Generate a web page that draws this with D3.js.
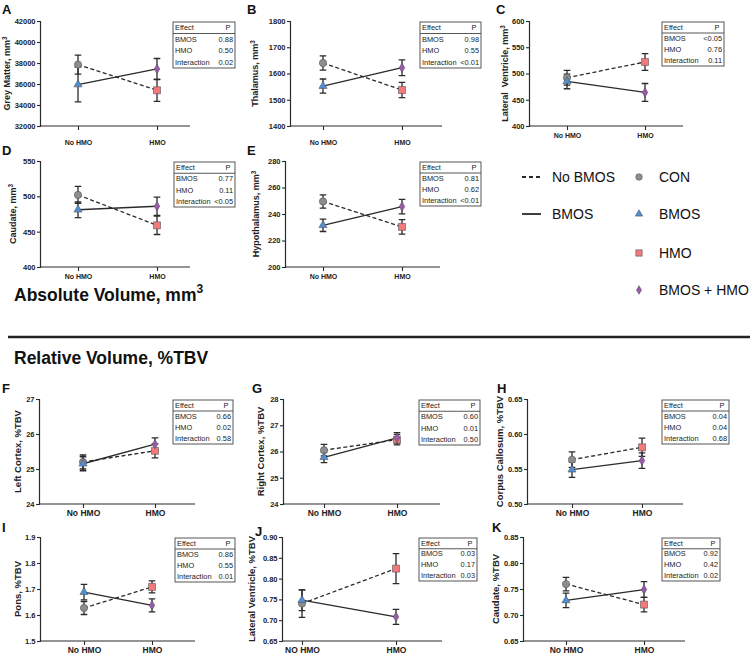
<!DOCTYPE html>
<html><head><meta charset="utf-8">
<script src="https://cdn.jsdelivr.net/npm/d3@7"></script>
<style>body{margin:0;background:#fff} svg{font-family:Arial,"Liberation Sans",sans-serif}</style>
</head><body><svg id="c" width="750" height="656"></svg>
<script>
// ---------- DATA ----------
const panelIds = ["A","B","C","D","E","F","G","H","I","J","K"];
const yLabels = ["Grey Matter, mm","Thalamus, mm","Lateral  Ventricle, mm","Caudate, mm","Hypothalamus, mm",
  "Left Cortex, %TBV","Right Cortex, %TBV","Corpus Callosum, %TBV","Pons, %TBV","Lateral Ventricle, %TBV","Caudate, %TBV"];
const ySup = ["3","3","3","3","3","","","","","",""];
const categories = ["No HMO","HMO"];
const categoriesJ = ["NO HMO","HMO"];
const groups = ["CON","BMOS","HMO","BMOS + HMO"];
const lineGroups = ["No BMOS","BMOS"];
const yTicks = [
  [32000,34000,36000,38000,40000,42000],
  [1400,1500,1600,1700,1800],
  [400,450,500,550,600],
  [400,450,500,550],
  [200,220,240,260,280],
  [24,25,26,27],
  [24,25,26,27,28],
  [0.50,0.55,0.60,0.65],
  [1.5,1.6,1.7,1.8,1.9],
  [0.65,0.70,0.75,0.80,0.85,0.90],
  [0.65,0.70,0.75,0.80,0.85]];
const tickFormats = ["d","d","d","d","d","d","d",".2f",".1f",".2f",".2f"];
const conMean  = [37850,1640,492,502,249.5,25.20,26.05,0.5634,1.627,0.740,0.7595];
const conSem   = [900,  27,  14, 12, 5.0,  0.20, 0.22, 0.011, 0.025,0.033,0.013];
const bmosMean = [35950,1552,485,481,231.5,25.15,25.78,0.549, 1.688,0.748,0.728];
const bmosSem  = [1650, 27,  14, 11, 4.7,  0.20, 0.20, 0.011, 0.030,0.025,0.014];
const hmoMean  = [35400,1537,522,459,230.3,25.52,26.45,0.581, 1.708,0.824,0.720];
const hmoSem   = [1050, 29,  16, 13, 5.5,  0.20, 0.20, 0.013, 0.023,0.036,0.014];
const bmhMean  = [37430,1622,464,486,245.6,25.71,26.52,0.562, 1.637,0.708,0.749];
const bmhSem   = [1000, 30,  17, 13, 5.5,  0.18, 0.20, 0.011, 0.025,0.018,0.015];
const effects = ["BMOS","HMO","Interaction"];
const pBMOS = ["0.88","0.98","<0.05","0.77","0.81","0.66","0.60","0.04","0.86","0.03","0.92"];
const pHMO  = ["0.50","0.55","0.76","0.11","0.62","0.02","0.01","0.04","0.55","0.17","0.42"];
const pInteraction = ["0.02","<0.01","0.11","<0.05","<0.01","0.58","0.50","0.68","0.01","0.03","0.02"];

// ---------- LAYOUT ----------
const L = [
 {x0:40, x1:190,yT:21, yB:126,c0:78, c1:157,tx:173,ty:22, tw:62,th:46,lx:2,  ly:14, yl:7,  cfs:7,  cp:10, lfs:9},
 {x0:290,x1:442,yT:21, yB:126,c0:323,c1:402,tx:420,ty:22, tw:61,th:46,lx:247,ly:14, yl:255,cfs:7,  cp:10, lfs:9},
 {x0:529,x1:683,yT:21, yB:126,c0:567,c1:645,tx:662,ty:22, tw:62,th:44,lx:496,ly:14, yl:505,cfs:7,  cp:3,  lfs:9},
 {x0:40, x1:190,yT:161,yB:267,c0:78, c1:157,tx:174,ty:162,tw:61,th:45,lx:2,  ly:155,yl:13, cfs:7,  cp:3,  lfs:9},
 {x0:285,x1:440,yT:161,yB:267,c0:323,c1:402,tx:420,ty:162,tw:61,th:44,lx:247,ly:155,yl:256,cfs:7,  cp:3,  lfs:9},
 {x0:39, x1:195,yT:399,yB:504,c0:83, c1:155,tx:173,ty:400,tw:60,th:44,lx:2,  ly:393,yl:18, cfs:8.5,cp:2,  lfs:9.5},
 {x0:283,x1:440,yT:399,yB:504,c0:324,c1:397,tx:419,ty:400,tw:61,th:45,lx:252,ly:393,yl:261,cfs:8.5,cp:2,  lfs:9.5},
 {x0:527,x1:683,yT:399,yB:504,c0:572,c1:642,tx:662,ty:400,tw:67,th:44,lx:497,ly:393,yl:500,cfs:8.5,cp:2,  lfs:9.5},
 {x0:40, x1:195,yT:537,yB:641,c0:84, c1:152,tx:175,ty:538,tw:60,th:44,lx:2,  ly:532,yl:18, cfs:8.5,cp:2,  lfs:9.5},
 {x0:282,x1:442,yT:537,yB:641,c0:302,c1:396,tx:419,ty:538,tw:58,th:43,lx:255,ly:536,yl:252,cfs:8.5,cp:2,  lfs:9.5},
 {x0:523,x1:685,yT:537,yB:641,c0:566,c1:644,tx:662,ty:538,tw:58,th:43,lx:492,ly:532,yl:496,cfs:8.5,cp:2,  lfs:9.5}
];
const colors = {CON:"#8e8e8e", BMOS:"#4f8fd6", HMO:"#f27a7c", "BMOS + HMO":"#9c57b0"};
const ink = "#2a2a2a";

const svg = d3.select("#c");

function marker(g, type, x, y, s) {
  const sym = {CON:d3.symbolCircle, BMOS:d3.symbolTriangle, HMO:d3.symbolSquare, "BMOS + HMO":d3.symbolDiamond}[type];
  const size = {CON:s*s*0.8, BMOS:s*s*0.55, HMO:s*s*0.95, "BMOS + HMO":s*s*0.5}[type];
  g.append("path").attr("d", d3.symbol(sym, size)())
   .attr("transform", `translate(${x},${y})`)
   .attr("fill", colors[type]).attr("stroke", "#555").attr("stroke-width", 0.6);
}

panelIds.forEach((id, i) => {
  const l = L[i];
  const g = svg.append("g");
  const ticks = yTicks[i];
  const y = d3.scaleLinear().domain([ticks[0], ticks[ticks.length-1]]).range([l.yB, l.yT]);
  const cats = id === "J" ? categoriesJ : categories;
  const x = d3.scalePoint().domain(cats).range([l.c0, l.c1]);

  // axes
  const ya = d3.axisLeft(y).tickValues(ticks).tickSize(3).tickPadding(1.5).tickFormat(d3.format(tickFormats[i]));
  const yg = g.append("g").attr("transform", `translate(${l.x0},0)`).call(ya);
  const xa = d3.axisBottom(x).tickSize(4).tickPadding(l.cp);
  const xg = g.append("g").attr("transform", `translate(0,${l.yB})`).call(xa);
  xg.select(".domain").attr("d", `M${l.x0},0H${l.x1}`);
  [yg, xg].forEach(a => {
    a.select(".domain").attr("stroke", ink).attr("stroke-width", 1.2);
    a.selectAll(".tick line").attr("stroke", ink).attr("stroke-width", 1.1);
  });
  yg.selectAll(".tick text").attr("font-size", 7.5).attr("font-weight", "bold").attr("fill", "#222");
  xg.selectAll(".tick text").attr("font-size", l.cfs).attr("font-weight", "bold").attr("fill", "#222");

  // y label
  const yt = g.append("text").attr("transform", `translate(${l.yl + l.lfs*0.35},${(l.yT+l.yB)/2}) rotate(-90)`)
    .attr("text-anchor", "middle").attr("font-size", l.lfs).attr("font-weight", "bold").attr("fill", "#222")
    .attr("xml:space", "preserve");
  yt.append("tspan").text(yLabels[i]);
  if (ySup[i]) yt.append("tspan").attr("dy", -l.lfs*0.4).attr("font-size", l.lfs*0.7).text(ySup[i]);

  // panel letter
  g.append("text").attr("x", l.lx).attr("y", l.ly).attr("font-size", 13).attr("font-weight", "bold")
    .attr("fill", "#111").text(id);

  // lines
  const pts = [
    {grp:"CON", c:cats[0], m:conMean[i], e:conSem[i]},
    {grp:"BMOS", c:cats[0], m:bmosMean[i], e:bmosSem[i]},
    {grp:"HMO", c:cats[1], m:hmoMean[i], e:hmoSem[i]},
    {grp:"BMOS + HMO", c:cats[1], m:bmhMean[i], e:bmhSem[i]}
  ];
  const line = d3.line().x(d => x(d.c)).y(d => y(d.m));
  g.append("path").attr("d", line([pts[0], pts[2]])).attr("fill", "none").attr("stroke", ink)
    .attr("stroke-width", 1.3).attr("stroke-dasharray", "4,2.5");
  g.append("path").attr("d", line([pts[1], pts[3]])).attr("fill", "none").attr("stroke", ink)
    .attr("stroke-width", 1.3);
  // error bars
  pts.forEach(d => {
    const cx = x(d.c), cw = 3.3;
    g.append("path").attr("d", `M${cx},${y(d.m-d.e)}V${y(d.m+d.e)}M${cx-cw},${y(d.m-d.e)}H${cx+cw}M${cx-cw},${y(d.m+d.e)}H${cx+cw}`)
      .attr("stroke", ink).attr("stroke-width", 1.3).attr("fill", "none");
  });
  pts.forEach(d => marker(g, d.grp, x(d.c), y(d.m), 7.2));

  // stats table
  const tb = g.append("g").attr("transform", `translate(${l.tx},${l.ty})`);
  const rh = l.th / 4;
  tb.append("rect").attr("width", l.tw).attr("height", l.th).attr("fill", "#fff").attr("stroke", "#444").attr("stroke-width", 0.9);
  tb.append("line").attr("x1", 0).attr("x2", l.tw).attr("y1", rh).attr("y2", rh).attr("stroke", "#444").attr("stroke-width", 0.9);
  const rows = [["Effect","P"], [effects[0], pBMOS[i]], [effects[1], pHMO[i]], [effects[2], pInteraction[i]]];
  rows.forEach((r, k) => {
    tb.append("text").attr("x", 2).attr("y", rh*k + rh*0.72).attr("font-size", 7.4).attr("fill", "#222").text(r[0]);
    tb.append("text").attr("x", k === 0 ? l.tw - 7 : l.tw - 2).attr("y", rh*k + rh*0.72)
      .attr("text-anchor", k === 0 ? "middle" : "end").attr("font-size", 7.4).attr("fill", "#222").text(r[1]);
  });
});

// legend
const lg = svg.append("g");
const lineRows = [177, 214];
lineGroups.forEach((n, k) => {
  lg.append("line").attr("x1", 522).attr("x2", 541).attr("y1", lineRows[k]).attr("y2", lineRows[k])
    .attr("stroke", ink).attr("stroke-width", 1.8).attr("stroke-dasharray", k === 0 ? "4,3" : null);
  lg.append("text").attr("x", 552).attr("y", lineRows[k] + 5).attr("font-size", 14).attr("fill", "#111").text(n);
});
const markRows = [177, 214, 253, 290];
groups.forEach((n, k) => {
  marker(lg, n, 639, markRows[k], 6.5);
  lg.append("text").attr("x", 659).attr("y", markRows[k] + 5).attr("font-size", 14).attr("fill", "#111").text(n);
});

// section titles
const t1 = svg.append("text").attr("x", 14).attr("y", 301).attr("font-size", 17.5).attr("font-weight", "bold").attr("fill", "#111");
t1.append("tspan").text("Absolute Volume, mm");
t1.append("tspan").attr("dy", -8).attr("font-size", 12).text("3");
svg.append("line").attr("x1", 8).attr("x2", 750).attr("y1", 337).attr("y2", 337).attr("stroke", "#222").attr("stroke-width", 2.5);
svg.append("text").attr("x", 14).attr("y", 364).attr("font-size", 17.5).attr("font-weight", "bold").attr("fill", "#111")
  .text("Relative Volume, %TBV");
</script></body></html>
